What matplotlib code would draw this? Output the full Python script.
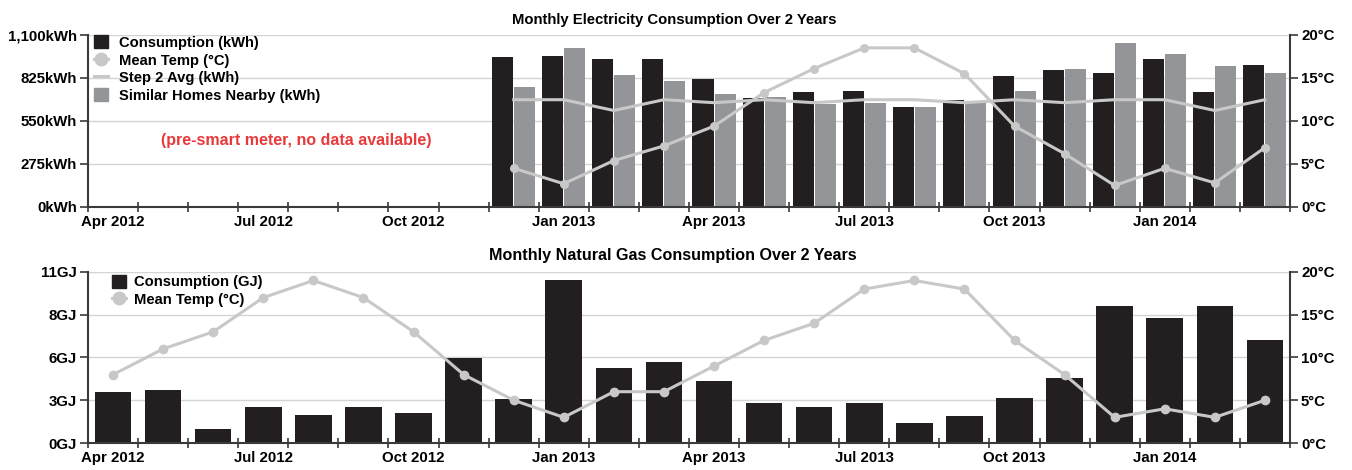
import numpy as np
import matplotlib.pyplot as plt
from matplotlib.patches import Patch
from matplotlib.lines import Line2D
from matplotlib.ticker import FixedLocator

# =========================
# DATA
# =========================

MONTHS = ["Apr 2012", "May 2012", "Jun 2012", "Jul 2012", "Aug 2012", "Sep 2012",
          "Oct 2012", "Nov 2012", "Dec 2012", "Jan 2013", "Feb 2013", "Mar 2013",
          "Apr 2013", "May 2013", "Jun 2013", "Jul 2013", "Aug 2013", "Sep 2013",
          "Oct 2013", "Nov 2013", "Dec 2013", "Jan 2014", "Feb 2014", "Mar 2014"]

# electricity starts Dec 2012 (smart meter)
ELEC_START = 8
elec_kwh = [958, 967, 945, 945, 817, 694, 733, 740, 637, 682, 836, 875, 855, 945, 733, 907]
similar_kwh = [765, 1016, 842, 804, 720, 701, 656, 662, 637, 669, 740, 881, 1048, 977, 900, 855]
step2_avg_kwh = [686, 686, 617, 686, 667, 686, 667, 686, 686, 667, 686, 667, 686, 686, 617, 686]
elec_temp = [4.5, 2.7, 5.4, 7.1, 9.4, 13.3, 16.1, 18.5, 18.5, 15.5, 9.4, 6.2, 2.5, 4.5, 2.8, 6.9]

gas_gj = [3.25, 3.44, 0.92, 2.34, 1.83, 2.34, 1.96, 5.44, 2.8, 10.47, 4.8, 5.18,
          4.02, 2.6, 2.34, 2.6, 1.31, 1.76, 2.92, 4.15, 8.8, 8.02, 8.8, 6.6]
gas_temp = [8, 11, 13, 17, 19, 17, 13, 8, 5, 3, 6, 6,
            9, 12, 14, 18, 19, 18, 12, 8, 3, 4, 3, 5]

# =========================
# STYLE
# =========================

BLACK = "#231f20"
GRAY_BAR = "#939598"
LINE_GRAY = "#c8c8c8"
GRID = "#d4d4d4"
SPINE = "#3a3a3a"
RED = "#e8393b"

plt.rcParams["font.family"] = ["Liberation Sans", "DejaVu Sans"]
plt.rcParams["font.weight"] = "bold"
TICK_FS = 10.8
LEGEND_FS = 10.6

fig = plt.figure(figsize=(13.52, 4.70), dpi=100)
ax1 = fig.add_axes([0.0651, 0.5596, 0.889, 0.366])
ax2 = fig.add_axes([0.0651, 0.0574, 0.889, 0.364])

n = len(MONTHS)
x_all = np.arange(n)
x_elec = np.arange(ELEC_START, n)


def style_axes(ax, axr, yticks, ylabels):
    ax.set_xlim(-0.5, n - 0.5)
    ax.set_ylim(yticks[0], yticks[-1])
    ax.set_yticks(yticks)
    ax.set_yticklabels(ylabels, fontsize=TICK_FS, fontweight="bold")
    ax.set_xticks(x_all[::3])
    ax.set_xticklabels(MONTHS[::3], fontsize=TICK_FS, fontweight="bold")
    ax.xaxis.set_minor_locator(FixedLocator(np.arange(-0.5, n, 1.0)))
    ax.tick_params(axis="x", which="major", length=0, pad=6)
    ax.tick_params(axis="x", which="minor", length=7, direction="inout", width=1.2, color=SPINE)
    ax.tick_params(axis="y", length=6, width=1.2, color=SPINE, pad=2)
    ax.grid(axis="y", color=GRID, linewidth=1.0)
    ax.set_axisbelow(True)
    for s in ["top", "right"]:
        ax.spines[s].set_visible(False)
    for s in ["left", "bottom"]:
        ax.spines[s].set_color(SPINE)
        ax.spines[s].set_linewidth(1.5)

    axr.set_ylim(0, 20)
    axr.set_yticks([0, 5, 10, 15, 20])
    axr.set_yticklabels(["0°C", "5°C", "10°C", "15°C", "20°C"], fontsize=TICK_FS, fontweight="bold")
    axr.tick_params(axis="y", length=6, width=1.2, color=SPINE, pad=2)
    for s in ["top", "left", "bottom"]:
        axr.spines[s].set_visible(False)
    axr.spines["right"].set_color(SPINE)
    axr.spines["right"].set_linewidth(1.5)


# ---- Electricity ----
ax1r = ax1.twinx()
ax1.bar(x_elec - 0.22, elec_kwh, width=0.42, color=BLACK, zorder=2)
ax1.bar(x_elec + 0.22, similar_kwh, width=0.42, color=GRAY_BAR, zorder=2)
ax1.plot(x_elec, step2_avg_kwh, color=LINE_GRAY, linewidth=2.2, zorder=3)
ax1r.plot(x_elec, elec_temp, color=LINE_GRAY, linewidth=2.2, marker="o", markersize=5.5, zorder=3)
style_axes(ax1, ax1r, [0, 275, 550, 825, 1100],
           ["0kWh", "275kWh", "550kWh", "825kWh", "1,100kWh"])
fig.text(0.499, 0.957, "Monthly Electricity Consumption Over 2 Years", fontsize=10.7,
         fontweight="bold", ha="center", va="center")
ax1.text(3.66, 424, "(pre-smart meter, no data available)", color=RED, fontsize=11.5,
         fontweight="bold", ha="center", va="center")

h1 = [Patch(color=BLACK),
      Line2D([], [], color=LINE_GRAY, marker="o", markersize=9, linewidth=2.2),
      Line2D([], [], color=LINE_GRAY, linewidth=2.2),
      Patch(color=GRAY_BAR)]
l1 = ["Consumption (kWh)", "Mean Temp (°C)", "Step 2 Avg (kWh)", "Similar Homes Nearby (kWh)"]
ax1r.legend(h1, l1, loc="upper left", bbox_to_anchor=(-0.004, 1.058), frameon=False,
            prop={"size": LEGEND_FS, "weight": "bold"}, handlelength=1.0, handleheight=1.0,
            handletextpad=0.75, labelspacing=0.2, borderaxespad=0.3)

# ---- Natural gas ----
ax2r = ax2.twinx()
ax2.bar(x_all, gas_gj, width=0.73, color=BLACK, zorder=2)
ax2r.plot(x_all, gas_temp, color=LINE_GRAY, linewidth=2.2, marker="o", markersize=6, zorder=3)
style_axes(ax2, ax2r, [0, 2.75, 5.5, 8.25, 11], ["0GJ", "3GJ", "6GJ", "8GJ", "11GJ"])
fig.text(0.498, 0.457, "Monthly Natural Gas Consumption Over 2 Years", fontsize=11.6,
         fontweight="bold", ha="center", va="center")

h2 = [Patch(color=BLACK),
      Line2D([], [], color=LINE_GRAY, marker="o", markersize=9, linewidth=2.2)]
l2 = ["Consumption (GJ)", "Mean Temp (°C)"]
ax2r.legend(h2, l2, loc="upper left", bbox_to_anchor=(0.011, 1.045), frameon=False,
            prop={"size": LEGEND_FS, "weight": "bold"}, handlelength=1.0, handleheight=1.0,
            handletextpad=0.55, labelspacing=0.2, borderaxespad=0.3)

fig.savefig("out.png", dpi=100)
plt.close(fig)
